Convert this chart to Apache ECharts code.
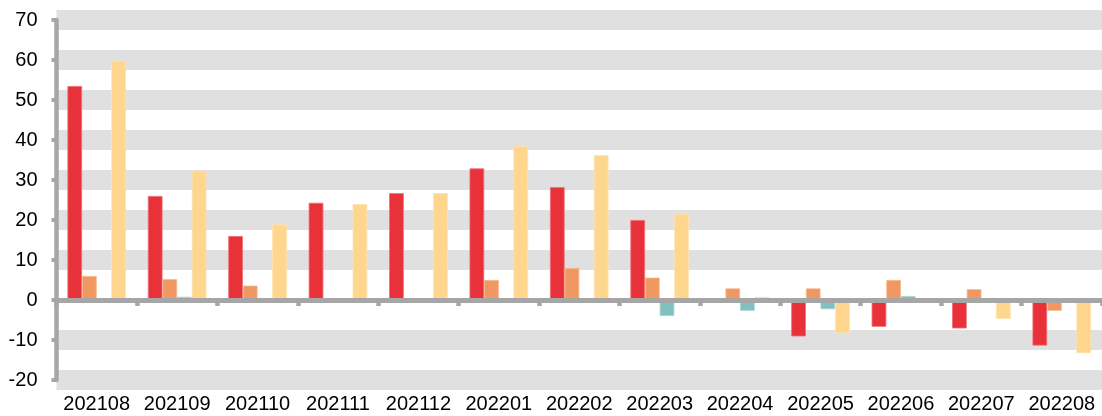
<!DOCTYPE html>
<html>
<head>
<meta charset="utf-8">
<script src="https://cdn.jsdelivr.net/npm/echarts@6/dist/echarts.min.js"></script>
<style>
html,body{margin:0;padding:0;background:#fff;}
#chart{width:1102px;height:416px;}
</style>
</head>
<body>
<div id="chart"></div>
<script>
var categories = ['202108','202109','202110','202111','202112','202201','202202','202203','202204','202205','202206','202207','202208'];
var seriesRed    = [53.5, 26.0, 16.0, 24.3, 26.7, 32.9, 28.2, 20.0, 0.3, -9.1, -6.7, -7.1, -11.4];
var seriesOrange = [6.0, 5.2, 3.6, -0.4, -0.3, 5.0, 8.0, 5.6, 2.9, 2.9, 5.0, 2.7, -2.7];
var seriesTeal   = [0, 0.8, -0.4, 0, 0.2, 0.3, 0, -4.0, -2.7, -2.3, 1.0, 0, 0.3];
var seriesYellow = [59.8, 32.3, 18.9, 24.0, 26.7, 38.5, 36.2, 21.6, 0.8, -8.3, -0.3, -4.7, -13.3];
var yTicks = [-20, -10, 0, 10, 20, 30, 40, 50, 60, 70];

var axisGray = '#a6a6a6';
var bandGray = '#e0e0e0';
var font = 'Liberation Sans, Arial, sans-serif';

var bandColors = yTicks.map(function (t) { return t === 0 ? 'rgba(0,0,0,0)' : bandGray; });

function bar(data, fill, border) {
  return {
    type: 'bar',
    data: data,
    xAxisIndex: 0,
    yAxisIndex: 0,
    barWidth: 14.64,
    barGap: '0%',
    itemStyle: { color: fill, borderColor: border, borderWidth: 0.8 },
    emphasis: { disabled: true },
    silent: true
  };
}

var chart = echarts.init(document.getElementById('chart'), null, { renderer: 'canvas' });
chart.setOption({
  animation: false,
  backgroundColor: '#ffffff',
  grid: { left: 56.5, right: -3, top: 20, bottom: 36, containLabel: false },
  xAxis: [
    {
      type: 'category',
      data: categories,
      position: 'bottom',
      axisLine: { show: false, onZero: false },
      axisTick: { show: false },
      splitLine: { show: false },
      axisLabel: { color: '#000', fontFamily: font, fontSize: 20, margin: 14, interval: 0 }
    },
    {
      type: 'category',
      data: categories,
      position: 'bottom',
      z: 10,
      axisLine: { show: true, onZero: true, lineStyle: { color: axisGray, width: 5 } },
      axisTick: { show: true, length: 6, inside: false, lineStyle: { color: axisGray, width: 4.5 } },
      axisLabel: { show: false },
      splitLine: { show: false }
    }
  ],
  yAxis: [
    {
      type: 'value',
      min: -20,
      max: 70,
      interval: 10,
      axisLine: { show: true, lineStyle: { color: axisGray, width: 4.5 } },
      axisTick: { show: true, length: 5, lineStyle: { color: axisGray, width: 4 } },
      axisLabel: { color: '#000', fontFamily: font, fontSize: 20, margin: 19,
        customValues: yTicks },
      splitLine: { show: true, showMinLine: true, showMaxLine: true,
        lineStyle: { color: bandColors, width: 20 } }
    }
  ],
  series: [
    bar(seriesRed, '#e83139', '#ef6d73'),
    bar(seriesOrange, '#f19862', '#f5b78f'),
    bar(seriesTeal, '#82c0c0', '#a9d4d4'),
    bar(seriesYellow, '#fed68e', '#ffe2b0')
  ]
});
</script>
</body>
</html>
